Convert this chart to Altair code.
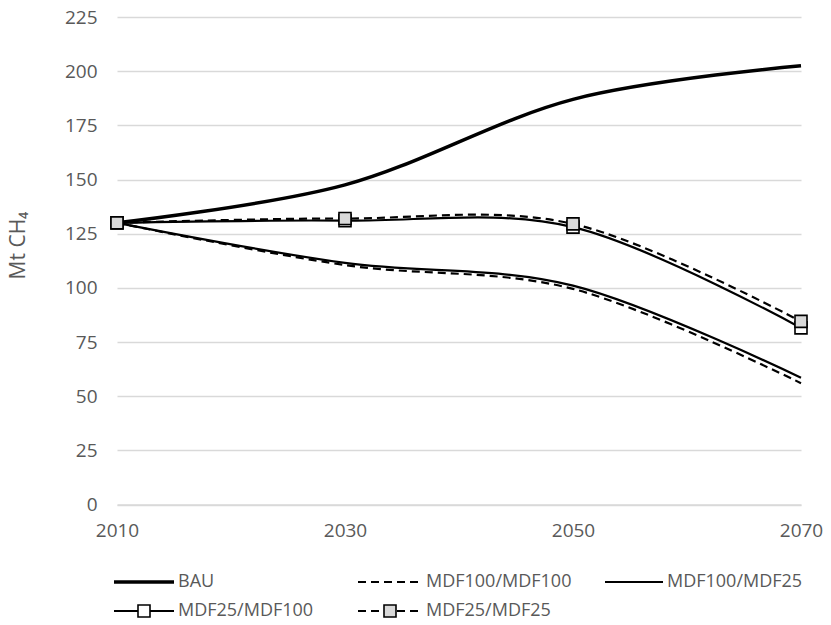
import altair as alt
import pandas as pd

# Methane emissions by scenario (Mt CH4)
years = [2010, 2030, 2050, 2070]
series_names = ["BAU", "MDF100/MDF100", "MDF100/MDF25", "MDF25/MDF100", "MDF25/MDF25"]
bau = [130, 147.5, 187, 202.5]
mdf100_mdf100 = [130, 110.5, 99.5, 56]
mdf100_mdf25 = [130, 111.5, 101, 58.5]
mdf25_mdf100 = [130, 131, 128, 81.5]
mdf25_mdf25 = [130, 132, 129.5, 84.5]
y_ticks = list(range(0, 226, 25))

values_by_series = [bau, mdf100_mdf100, mdf100_mdf25, mdf25_mdf100, mdf25_mdf25]
df = pd.DataFrame(
    [
        {"series": name, "year": yr, "value": v}
        for name, vals in zip(series_names, values_by_series)
        for yr, v in zip(years, vals)
    ]
)

FONT = "Open Sans"
TEXT_COLOR = "#595959"
GRID = "#d9d9d9"
DASH = [8, 5]

# line style per series: (stroke width, dash, marker fill or None)
styles = {
    "BAU": (3.5, None, None),
    "MDF100/MDF100": (2.2, DASH, None),
    "MDF100/MDF25": (2.2, None, None),
    "MDF25/MDF100": (2.2, None, "#ffffff"),
    "MDF25/MDF25": (2.2, DASH, "#d9d9d9"),
}

x_enc = alt.X(
    "year:Q",
    scale=alt.Scale(domain=[2010, 2070], nice=False, zero=False),
    axis=alt.Axis(
        values=years,
        format="d",
        grid=False,
        ticks=False,
        domain=True,
        domainColor=GRID,
        domainWidth=1.3,
        labelFlush=False,
        labelOverlap=False,
        labelPadding=17,
        labelFont=FONT,
        labelFontSize=19,
        labelColor=TEXT_COLOR,
        title=None,
    ),
)
y_enc = alt.Y(
    "value:Q",
    scale=alt.Scale(domain=[0, 225], nice=False),
    axis=alt.Axis(
        values=y_ticks,
        grid=True,
        gridColor=GRID,
        gridWidth=1.3,
        domain=False,
        ticks=False,
        labelPadding=20,
        labelFont=FONT,
        labelFontSize=19,
        labelColor=TEXT_COLOR,
        title="Mt CH₄",
        titleFont=FONT,
        titleFontSize=21,
        titleFontWeight="normal",
        titleColor=TEXT_COLOR,
        titleX=-99,
        titleY=228,
        titleBaseline="middle",
    ),
)

base = alt.Chart(df)
layers = []
for name in series_names:
    width, dash, fill = styles[name]
    kw = {"strokeWidth": width, "color": "black", "interpolate": "cardinal", "tension": 0}
    if dash:
        kw["strokeDash"] = dash
    layers.append(
        base.transform_filter(alt.datum.series == name)
        .mark_line(**kw)
        .encode(x=x_enc, y=y_enc)
    )
for name in series_names:
    width, dash, fill = styles[name]
    if fill:
        layers.append(
            base.transform_filter(alt.datum.series == name)
            .mark_point(shape="square", size=144, filled=True, fill=fill,
                        stroke="black", strokeWidth=1.6, opacity=1)
            .encode(x=x_enc, y=y_enc)
        )

# legend below the axis: three columns, two rows
col_line = [(-3, 57), (241, 305), (488, 546)]
row_y = [565, 594]
for i, name in enumerate(series_names):
    width, dash, fill = styles[name]
    c, r = i % 3, i // 3
    x0, x1 = col_line[c]
    y = row_y[r]
    item = alt.Chart(alt.Data(values=[{"label": name}]))
    rule_kw = {"strokeWidth": width, "color": "black"}
    if dash:
        rule_kw["strokeDash"] = DASH
    layers.append(
        item.mark_rule(**rule_kw).encode(
            x=alt.value(x0), x2=alt.value(x1), y=alt.value(y)
        )
    )
    if fill:
        layers.append(
            item.mark_point(shape="square", size=144, filled=True, fill=fill,
                            stroke="black", strokeWidth=1.6, opacity=1).encode(
                x=alt.value((x0 + x1) / 2), y=alt.value(y)
            )
        )
    layers.append(
        item.mark_text(align="left", baseline="middle", font=FONT, fontSize=18,
                       color=TEXT_COLOR).encode(
            x=alt.value(x1 + 4), y=alt.value(y), text="label:N"
        )
    )

chart = (
    alt.layer(*layers)
    .properties(
        width=684,
        height=487.5,
        padding={"left": 117, "top": 17, "right": 30, "bottom": 120.5},
        autosize=alt.AutoSizeParams(type="none"),
        background="white",
    )
    .configure_view(stroke=None)
)

chart.save("out.html", embed_options={"renderer": "svg", "actions": False})
